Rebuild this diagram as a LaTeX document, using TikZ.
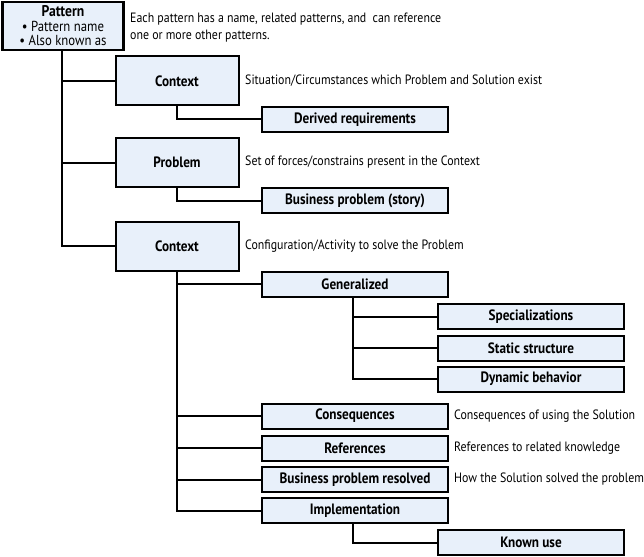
\documentclass[tikz,border=0pt]{standalone}
\usepackage{fontspec}
\setmainfont{PT Sans}[FakeStretch=0.88]
\begin{document}
\begin{tikzpicture}[x=1pt,y=-1pt,
  box/.style={draw=black, line width=2pt, fill=boxfill, inner sep=0pt, font=\bfseries\fontsize{15}{17}\selectfont},
  bigbox/.style={box, minimum width=123pt, minimum height=49pt},
  smallbox/.style={box, minimum width=186pt, minimum height=25pt},
  desc/.style={anchor=west, inner sep=0pt, font=\fontsize{13.5}{17}\selectfont, align=left},
  conn/.style={line width=2pt, line cap=rect}]
\definecolor{boxfill}{RGB}{232,240,250}
\useasboundingbox (0,0) rectangle (644,556);

% nodes
\node[box, line width=2.6pt, minimum width=121pt, minimum height=48pt, align=center, font=\fontsize{14.5}{14.5}\selectfont] (pattern) at (63,26)
  {{\fontsize{15.5}{15.5}\selectfont\bfseries Pattern}\\ • Pattern name\\ • Also known as};
\node[desc] (pdesc) at (130,28) {Each pattern has a name, related patterns, and\ \ can reference\\ one or more other patterns.};

\node[bigbox] (ctx1) at (177,81) {Context};
\node[desc] (ctx1d) at (245,81) {Situation/Circumstances which Problem and Solution exist};
\node[smallbox] (derived) at (355,119.5) {Derived requirements};

\node[bigbox] (prob) at (177,162.5) {Problem};
\node[desc] (probd) at (245,162.5) {Set of forces/constrains present in the Context};
\node[smallbox] (bps) at (355,200.5) {Business problem (story)};

\node[bigbox] (ctx2) at (177,246) {Context};
\node[desc] (ctx2d) at (245,246) {Configuration/Activity to solve the Problem};
\node[smallbox] (gen) at (355,284) {Generalized};

\node[smallbox] (spec) at (531,316.5) {Specializations};
\node[smallbox] (stat) at (531,348) {Static structure};
\node[smallbox] (dyn) at (531,379) {Dynamic behavior};

\node[smallbox] (cons) at (355,416) {Consequences};
\node[desc] (consd) at (454,416) {Consequences of using the Solution};
\node[smallbox] (refs) at (355,448) {References};
\node[desc] (refsd) at (454,448) {References to related knowledge};
\node[smallbox] (bpr) at (355,479.5) {Business problem resolved};
\node[desc] (bprd) at (454,479.5) {How the Solution solved the problem};
\node[smallbox] (impl) at (355,510.5) {Implementation};
\node[smallbox] (known) at (531,542.5) {Known use};

% connectors
\coordinate (m) at (62,0);
\draw[conn] (pattern.south -| m) |- (ctx2.west);
\draw[conn] (ctx1.west -| m) -- (ctx1.west);
\draw[conn] (prob.west -| m) -- (prob.west);

\draw[conn] (ctx1.south) |- (derived.west);
\draw[conn] (prob.south) |- (bps.west);

\draw[conn] (ctx2.south) |- (impl.west);
\draw[conn] (ctx2.south |- gen.west) -- (gen.west);
\draw[conn] (ctx2.south |- cons.west) -- (cons.west);
\draw[conn] (ctx2.south |- refs.west) -- (refs.west);
\draw[conn] (ctx2.south |- bpr.west) -- (bpr.west);

\coordinate (g) at (352.5,0);
\draw[conn] (gen.south -| g) |- (dyn.west);
\draw[conn] (spec.west -| g) -- (spec.west);
\draw[conn] (stat.west -| g) -- (stat.west);
\draw[conn] (impl.south -| g) |- (known.west);
\end{tikzpicture}
\end{document}
